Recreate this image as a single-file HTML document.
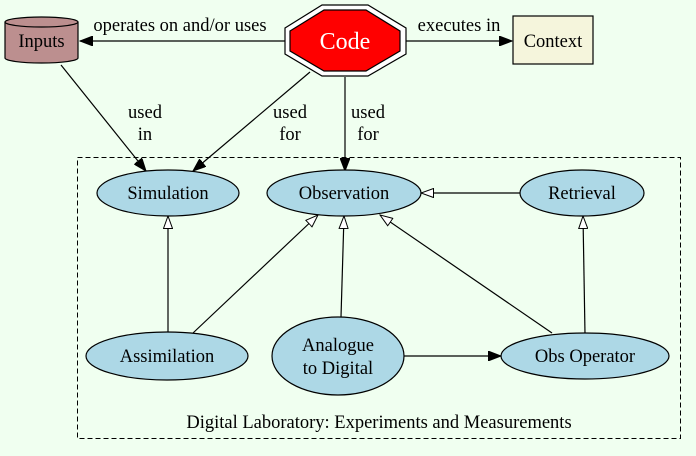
<!DOCTYPE html>
<html><head><style>html,body{margin:0;padding:0;background:#f0fff0}svg{display:block}</style></head>
<body>
<svg width="696" height="456" viewBox="0 0 696 456" xmlns="http://www.w3.org/2000/svg" style="font-family:'Liberation Serif',serif" font-size="18.5">
<defs>
<marker id="f" markerWidth="14" markerHeight="10" refX="13" refY="5" orient="auto" markerUnits="userSpaceOnUse"><path d="M0,0 L13,5 L0,10 Z" fill="#000" stroke="#000"/></marker>
<marker id="o" markerWidth="14" markerHeight="10" refX="13" refY="5" orient="auto" markerUnits="userSpaceOnUse"><path d="M0.5,0.5 L13,5 L0.5,9.5 Z" fill="#fff" stroke="#000"/></marker>
</defs>
<rect width="696" height="456" fill="#f0fff0"/>
<rect x="77.5" y="157.5" width="603" height="281" fill="none" stroke="#000" stroke-dasharray="5,3"/>
<text x="379" y="428" text-anchor="middle">Digital Laboratory: Experiments and Measurements</text>

<g stroke="#000" stroke-width="1.2" fill="none">
<line x1="285" y1="41" x2="80" y2="41" marker-end="url(#f)"/>
<line x1="406" y1="41" x2="512" y2="41" marker-end="url(#f)"/>
<line x1="61" y1="65" x2="146" y2="171" marker-end="url(#f)"/>
<line x1="310" y1="72" x2="193" y2="171" marker-end="url(#f)"/>
<line x1="345" y1="77" x2="345" y2="171" marker-end="url(#f)"/>
<line x1="520" y1="193" x2="421" y2="193" marker-end="url(#o)"/>
<line x1="585" y1="334" x2="583" y2="216" marker-end="url(#o)"/>
<line x1="168" y1="334" x2="168" y2="216" marker-end="url(#o)"/>
<line x1="193" y1="333" x2="318" y2="215" marker-end="url(#o)"/>
<line x1="341" y1="317" x2="344" y2="216" marker-end="url(#o)"/>
<line x1="552" y1="333" x2="380" y2="215" marker-end="url(#o)"/>
<line x1="404" y1="356" x2="501" y2="356" marker-end="url(#f)"/>
</g>

<text x="180" y="31" text-anchor="middle">operates on and/or uses</text>
<text x="459" y="31" text-anchor="middle">executes in</text>
<text x="145" y="118" text-anchor="middle">used</text>
<text x="145" y="140" text-anchor="middle">in</text>
<text x="290" y="118" text-anchor="middle">used</text>
<text x="290" y="140" text-anchor="middle">for</text>
<text x="368" y="118" text-anchor="middle">used</text>
<text x="368" y="140" text-anchor="middle">for</text>

<path d="M5,22 L5,58 A36.5,5 0 0 0 78,58 L78,22 A36.5,5 0 0 0 5,22 Z" fill="#bc8f8f" stroke="#000" stroke-width="1.2"/>
<path d="M5,22 A36.5,5 0 0 0 78,22" fill="none" stroke="#000" stroke-width="1.2"/>
<text x="41.5" y="47" text-anchor="middle">Inputs</text>

<polygon points="285,28 322,5 368,5 406,28 406,54 368,76 322,76 285,54" fill="#fff" stroke="#000" stroke-width="1.2"/>
<polygon points="290,31 324,10 366,10 400,31 400,51 366,71 324,71 290,51" fill="#ff0000" stroke="#000" stroke-width="1.2"/>
<text x="345" y="49" text-anchor="middle" fill="#fff" font-size="24">Code</text>

<rect x="513" y="16" width="80" height="48" fill="#f5f5dc" stroke="#000" stroke-width="1.2"/>
<text x="553" y="47" text-anchor="middle">Context</text>

<g fill="#add8e6" stroke="#000" stroke-width="1.2">
<ellipse cx="168" cy="193" rx="71" ry="23"/>
<ellipse cx="344" cy="193" rx="77" ry="23"/>
<ellipse cx="582" cy="193" rx="62" ry="23"/>
<ellipse cx="167" cy="356" rx="81" ry="24"/>
<ellipse cx="338" cy="356" rx="66" ry="39"/>
<ellipse cx="585" cy="356" rx="84" ry="23"/>
</g>
<g text-anchor="middle">
<text x="168" y="199">Simulation</text>
<text x="344" y="199">Observation</text>
<text x="582" y="199">Retrieval</text>
<text x="167" y="362">Assimilation</text>
<text x="338" y="351">Analogue</text>
<text x="338" y="374">to Digital</text>
<text x="585" y="362">Obs Operator</text>
</g>
</svg>
</body></html>
